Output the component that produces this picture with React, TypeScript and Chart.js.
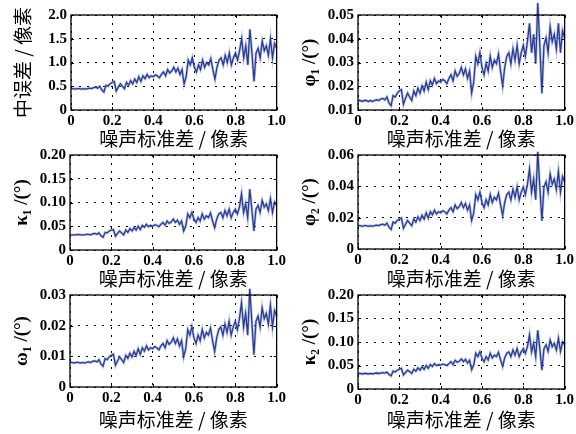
import React, { useEffect, useRef } from 'react';
import { Chart, registerables } from 'chart.js';

Chart.register(...registerables);

// ---------- data ----------
const noiseStd = [
  0, 0.01, 0.02, 0.03, 0.04, 0.05, 0.06, 0.07, 0.08, 0.09,
  0.1, 0.11, 0.12, 0.13, 0.14, 0.15, 0.16, 0.17, 0.18, 0.19,
  0.2, 0.21, 0.22, 0.23, 0.24, 0.25, 0.26, 0.27, 0.28, 0.29,
  0.3, 0.31, 0.32, 0.33, 0.34, 0.35, 0.36, 0.37, 0.38, 0.39,
  0.4, 0.41, 0.42, 0.43, 0.44, 0.45, 0.46, 0.47, 0.48, 0.49,
  0.5, 0.51, 0.52, 0.53, 0.54, 0.55, 0.56, 0.57, 0.58, 0.59,
  0.6, 0.61, 0.62, 0.63, 0.64, 0.65, 0.66, 0.67, 0.68, 0.69,
  0.7, 0.71, 0.72, 0.73, 0.74, 0.75, 0.76, 0.77, 0.78, 0.79,
  0.8, 0.81, 0.82, 0.83, 0.84, 0.85, 0.86, 0.87, 0.88, 0.89,
  0.9, 0.91, 0.92, 0.93, 0.94, 0.95, 0.96, 0.97, 0.98, 0.99,
  1.0,
];

const meanError = [
  0.45, 0.45, 0.44, 0.45, 0.45, 0.44, 0.45, 0.44, 0.45, 0.46,
  0.45, 0.47, 0.48, 0.46, 0.50, 0.42, 0.38, 0.52, 0.50, 0.55,
  0.58, 0.60, 0.40, 0.48, 0.55, 0.50, 0.45, 0.58, 0.52, 0.62,
  0.55, 0.65, 0.58, 0.70, 0.60, 0.72, 0.66, 0.75, 0.68, 0.72,
  0.70, 0.74, 0.72, 0.68, 0.75, 0.80, 0.72, 0.85, 0.78, 0.82,
  0.90, 0.80, 0.88, 0.75, 0.85, 0.55, 0.70, 1.05, 0.95, 1.10,
  0.90, 0.80, 0.95, 0.85, 1.05, 0.90, 1.00, 0.95, 1.08, 0.85,
  0.65, 0.90, 1.05, 1.10, 0.95, 1.15, 1.00, 1.20, 0.95, 1.10,
  1.20, 1.05, 1.25, 1.50, 1.10, 1.35, 0.95, 1.70, 1.20, 0.60,
  1.20, 1.30, 1.10, 1.45, 1.25, 1.35, 1.15, 1.50, 1.10, 1.40,
  1.30,
];

const phi1 = [
  0.0140, 0.0140, 0.0136, 0.0140, 0.0140, 0.0136, 0.0140, 0.0136, 0.0140, 0.0143,
  0.0140, 0.0146, 0.0149, 0.0143, 0.0155, 0.0130, 0.0118, 0.0161, 0.0155, 0.0171,
  0.0180, 0.0186, 0.0124, 0.0149, 0.0171, 0.0155, 0.0140, 0.0180, 0.0161, 0.0192,
  0.0171, 0.0202, 0.0180, 0.0217, 0.0186, 0.0223, 0.0205, 0.0233, 0.0211, 0.0223,
  0.0217, 0.0229, 0.0223, 0.0211, 0.0233, 0.0248, 0.0223, 0.0264, 0.0242, 0.0254,
  0.0279, 0.0248, 0.0273, 0.0233, 0.0264, 0.0171, 0.0217, 0.0326, 0.0295, 0.0341,
  0.0279, 0.0248, 0.0295, 0.0264, 0.0326, 0.0279, 0.0310, 0.0295, 0.0335, 0.0264,
  0.0202, 0.0279, 0.0326, 0.0341, 0.0295, 0.0357, 0.0310, 0.0372, 0.0295, 0.0341,
  0.0372, 0.0326, 0.0388, 0.0465, 0.0341, 0.0419, 0.0295, 0.0550, 0.0372, 0.0170,
  0.0372, 0.0403, 0.0341, 0.0450, 0.0388, 0.0419, 0.0357, 0.0465, 0.0341, 0.0434,
  0.0403,
];

const kappa1 = [
  0.032, 0.032, 0.032, 0.032, 0.033, 0.032, 0.032, 0.032, 0.033, 0.033,
  0.032, 0.034, 0.035, 0.033, 0.036, 0.030, 0.027, 0.037, 0.036, 0.040,
  0.042, 0.043, 0.029, 0.035, 0.040, 0.036, 0.032, 0.042, 0.037, 0.045,
  0.040, 0.047, 0.042, 0.050, 0.043, 0.052, 0.048, 0.054, 0.049, 0.052,
  0.050, 0.053, 0.052, 0.049, 0.054, 0.058, 0.052, 0.061, 0.056, 0.059,
  0.065, 0.058, 0.063, 0.054, 0.061, 0.040, 0.050, 0.076, 0.068, 0.079,
  0.065, 0.058, 0.068, 0.061, 0.076, 0.065, 0.072, 0.068, 0.078, 0.061,
  0.047, 0.065, 0.076, 0.079, 0.068, 0.083, 0.072, 0.086, 0.068, 0.079,
  0.086, 0.076, 0.090, 0.118, 0.079, 0.097, 0.068, 0.128, 0.086, 0.040,
  0.086, 0.094, 0.079, 0.104, 0.090, 0.097, 0.083, 0.108, 0.079, 0.101,
  0.094,
];

const phi2 = [
  0.0149, 0.0149, 0.0145, 0.0149, 0.0149, 0.0145, 0.0149, 0.0145, 0.0149, 0.0152,
  0.0149, 0.0155, 0.0158, 0.0152, 0.0165, 0.0139, 0.0125, 0.0172, 0.0165, 0.0182,
  0.0191, 0.0198, 0.0132, 0.0158, 0.0182, 0.0165, 0.0149, 0.0191, 0.0172, 0.0205,
  0.0182, 0.0215, 0.0191, 0.0231, 0.0198, 0.0238, 0.0218, 0.0248, 0.0224, 0.0238,
  0.0231, 0.0244, 0.0238, 0.0224, 0.0248, 0.0264, 0.0238, 0.0281, 0.0257, 0.0271,
  0.0297, 0.0264, 0.0290, 0.0248, 0.0281, 0.0182, 0.0231, 0.0347, 0.0314, 0.0363,
  0.0297, 0.0264, 0.0314, 0.0281, 0.0347, 0.0297, 0.0330, 0.0314, 0.0356, 0.0281,
  0.0215, 0.0297, 0.0347, 0.0363, 0.0314, 0.0380, 0.0330, 0.0396, 0.0314, 0.0363,
  0.0396, 0.0347, 0.0413, 0.0510, 0.0363, 0.0446, 0.0314, 0.0620, 0.0396, 0.0180,
  0.0396, 0.0429, 0.0363, 0.0479, 0.0413, 0.0446, 0.0380, 0.0495, 0.0363, 0.0462,
  0.0429,
];

const omega1 = [
  0.0080, 0.0080, 0.0078, 0.0080, 0.0080, 0.0078, 0.0080, 0.0078, 0.0080, 0.0082,
  0.0080, 0.0084, 0.0085, 0.0082, 0.0089, 0.0075, 0.0068, 0.0093, 0.0089, 0.0098,
  0.0103, 0.0107, 0.0071, 0.0085, 0.0098, 0.0089, 0.0080, 0.0103, 0.0093, 0.0110,
  0.0098, 0.0116, 0.0103, 0.0125, 0.0107, 0.0128, 0.0117, 0.0134, 0.0121, 0.0128,
  0.0125, 0.0132, 0.0128, 0.0121, 0.0134, 0.0142, 0.0128, 0.0151, 0.0139, 0.0146,
  0.0160, 0.0142, 0.0157, 0.0134, 0.0151, 0.0098, 0.0125, 0.0187, 0.0169, 0.0196,
  0.0160, 0.0142, 0.0169, 0.0151, 0.0187, 0.0160, 0.0178, 0.0169, 0.0192, 0.0151,
  0.0116, 0.0160, 0.0187, 0.0196, 0.0169, 0.0205, 0.0178, 0.0214, 0.0169, 0.0196,
  0.0214, 0.0187, 0.0223, 0.0275, 0.0196, 0.0240, 0.0169, 0.0320, 0.0214, 0.0105,
  0.0214, 0.0231, 0.0196, 0.0258, 0.0223, 0.0240, 0.0205, 0.0267, 0.0196, 0.0249,
  0.0231,
];

const kappa2 = [
  0.033, 0.033, 0.032, 0.033, 0.033, 0.032, 0.033, 0.032, 0.033, 0.034,
  0.033, 0.034, 0.035, 0.034, 0.036, 0.031, 0.028, 0.038, 0.036, 0.040,
  0.042, 0.044, 0.030, 0.035, 0.040, 0.037, 0.033, 0.042, 0.038, 0.045,
  0.040, 0.047, 0.042, 0.050, 0.044, 0.052, 0.048, 0.054, 0.050, 0.052,
  0.051, 0.053, 0.052, 0.050, 0.054, 0.058, 0.052, 0.061, 0.057, 0.059,
  0.064, 0.058, 0.063, 0.055, 0.061, 0.041, 0.051, 0.076, 0.069, 0.079,
  0.066, 0.058, 0.069, 0.062, 0.076, 0.066, 0.072, 0.069, 0.078, 0.062,
  0.048, 0.066, 0.076, 0.079, 0.069, 0.083, 0.072, 0.086, 0.069, 0.079,
  0.086, 0.076, 0.090, 0.115, 0.079, 0.097, 0.069, 0.125, 0.086, 0.040,
  0.086, 0.094, 0.080, 0.104, 0.090, 0.097, 0.083, 0.108, 0.080, 0.100,
  0.094,
];

const xTitle = '噪声标准差 / 像素';
const xTicks = [0, 0.2, 0.4, 0.6, 0.8, 1.0];

// ---------- layout / styles ----------
type Rect = { x: number; y: number; w: number; h: number };
type Area = { l: number; t: number; r: number; b: number };

interface PanelCfg {
  values: number[];
  yMin: number;
  yMax: number;
  yStep: number;
  yDigits: number;
  yTitle: string;
  cjkTitle: boolean;
  canvas: Rect;
  area: Area;
}

const LINE_COLOR = '#2a3c90';
const HALO_COLOR = 'rgba(110, 130, 200, 0.45)';
const TICK_FONT = { family: "'Liberation Serif', 'Times New Roman', serif", size: 15, weight: 'bold' as const };
const CJK_FONT = { family: "'Noto Sans CJK SC', sans-serif", size: 19, weight: 'normal' as const };
const GREEK_FONT = { family: "'Liberation Serif', 'DejaVu Serif', serif", size: 19, weight: 'bold' as const };
const GRID_DASH = [2, 6];

const panels: PanelCfg[] = [
  { values: meanError, yMin: 0, yMax: 2, yStep: 0.5, yDigits: 1, yTitle: '中误差 / 像素', cjkTitle: true,
    canvas: { x: 0, y: 0, w: 288, h: 150 }, area: { l: 71, t: 15, r: 278, b: 110 } },
  { values: phi1, yMin: 0.01, yMax: 0.05, yStep: 0.01, yDigits: 2, yTitle: 'φ₁ /(°)', cjkTitle: false,
    canvas: { x: 288, y: 0, w: 288, h: 150 }, area: { l: 358, t: 15, r: 567, b: 110 } },
  { values: kappa1, yMin: 0, yMax: 0.2, yStep: 0.05, yDigits: 2, yTitle: 'κ₁ /(°)', cjkTitle: false,
    canvas: { x: 0, y: 140, w: 288, h: 150 }, area: { l: 70, t: 155, r: 278, b: 250 } },
  { values: phi2, yMin: 0, yMax: 0.06, yStep: 0.02, yDigits: 2, yTitle: 'φ₂ /(°)', cjkTitle: false,
    canvas: { x: 288, y: 140, w: 288, h: 150 }, area: { l: 358, t: 155, r: 567, b: 249 } },
  { values: omega1, yMin: 0, yMax: 0.03, yStep: 0.01, yDigits: 2, yTitle: 'ω₁ /(°)', cjkTitle: false,
    canvas: { x: 0, y: 280, w: 288, h: 151 }, area: { l: 70, t: 295, r: 278, b: 387 } },
  { values: kappa2, yMin: 0, yMax: 0.2, yStep: 0.05, yDigits: 2, yTitle: 'κ₂ /(°)', cjkTitle: false,
    canvas: { x: 288, y: 280, w: 288, h: 151 }, area: { l: 358, t: 295, r: 567, b: 389 } },
];

const boxPlugin = {
  id: 'matlabBox',
  afterDraw(chart: any) {
    const { ctx, chartArea } = chart;
    const { left, top, right, bottom } = chartArea;
    ctx.save();
    ctx.strokeStyle = '#000';
    ctx.lineWidth = 1.3;
    ctx.setLineDash([]);
    ctx.strokeRect(left, top, right - left, bottom - top);
    const len = 3;
    ctx.lineWidth = 1;
    ctx.beginPath();
    const xs = chart.scales.x;
    xs.ticks.forEach((t: any) => {
      const px = Math.round(xs.getPixelForValue(t.value)) + 0.5;
      ctx.moveTo(px, bottom);
      ctx.lineTo(px, bottom - len);
      ctx.moveTo(px, top);
      ctx.lineTo(px, top + len);
    });
    const ys = chart.scales.y;
    ys.ticks.forEach((t: any) => {
      const py = Math.round(ys.getPixelForValue(t.value)) + 0.5;
      ctx.moveTo(left, py);
      ctx.lineTo(left + len, py);
      ctx.moveTo(right, py);
      ctx.lineTo(right - len, py);
    });
    ctx.stroke();
    ctx.restore();
  },
};

function Panel({ cfg }: { cfg: PanelCfg }) {
  const ref = useRef<HTMLCanvasElement | null>(null);
  useEffect(() => {
    const canvas = ref.current;
    if (!canvas) return;
    const { canvas: c, area } = cfg;
    const yAxisWidth = area.l - c.x;
    const xAxisHeight = c.y + c.h - area.b;
    const points = noiseStd.map((x, i) => ({ x, y: cfg.values[i] }));
    const chart = new Chart(canvas, {
      type: 'line',
      data: {
        datasets: [
          {
            data: points,
            borderColor: LINE_COLOR,
            borderWidth: 1.3,
            pointRadius: 0,
            tension: 0,
            fill: false,
            clip: false as any,
          },
          {
            data: points,
            borderColor: HALO_COLOR,
            borderWidth: 2.8,
            pointRadius: 0,
            tension: 0,
            fill: false,
            clip: false as any,
          },
        ],
      },
      options: {
        animation: false,
        responsive: false,
        maintainAspectRatio: false,
        events: [],
        layout: {
          padding: { left: 0, top: area.t - c.y, right: c.x + c.w - area.r, bottom: 0 },
        },
        plugins: { legend: { display: false }, tooltip: { enabled: false }, title: { display: false } },
        scales: {
          x: {
            type: 'linear',
            min: 0,
            max: 1,
            afterBuildTicks: (scale: any) => {
              scale.ticks = xTicks.map((v) => ({ value: v }));
            },
            afterFit: (scale: any) => {
              scale.height = xAxisHeight;
            },
            ticks: {
              autoSkip: false,
              maxRotation: 0,
              padding: 2,
              color: '#000',
              font: TICK_FONT,
              callback: (v: any) => (Number(v) === 0 ? '0' : Number(v).toFixed(1)),
            },
            grid: { color: '#000', lineWidth: 1, drawTicks: false },
            border: { display: false, dash: GRID_DASH },
            title: {
              display: true,
              text: xTitle,
              color: '#000',
              font: CJK_FONT,
              padding: { top: 0, bottom: 0 },
            },
          },
          y: {
            type: 'linear',
            min: cfg.yMin,
            max: cfg.yMax,
            afterBuildTicks: (scale: any) => {
              const arr: { value: number }[] = [];
              const n = Math.round((cfg.yMax - cfg.yMin) / cfg.yStep);
              for (let i = 0; i <= n; i++) arr.push({ value: cfg.yMin + i * cfg.yStep });
              scale.ticks = arr;
            },
            afterFit: (scale: any) => {
              scale.width = yAxisWidth;
            },
            ticks: {
              autoSkip: false,
              padding: 4,
              color: '#000',
              font: TICK_FONT,
              callback: (v: any) => (Math.abs(Number(v)) < 1e-9 ? '0' : Number(v).toFixed(cfg.yDigits)),
            },
            grid: { color: '#000', lineWidth: 1, drawTicks: false },
            border: { display: false, dash: GRID_DASH },
            title: {
              display: true,
              text: cfg.yTitle,
              color: '#000',
              font: cfg.cjkTitle ? CJK_FONT : GREEK_FONT,
              padding: { top: 11, bottom: 0 },
            },
          },
        },
      } as any,
      plugins: [boxPlugin],
    });
    return () => chart.destroy();
  }, [cfg]);

  return (
    <canvas
      ref={ref}
      width={cfg.canvas.w}
      height={cfg.canvas.h}
      style={{
        position: 'absolute',
        left: cfg.canvas.x,
        top: cfg.canvas.y,
        width: cfg.canvas.w,
        height: cfg.canvas.h,
      }}
    />
  );
}

export default function App() {
  return (
    <div
      style={{
        position: 'absolute',
        left: 0,
        top: 0,
        width: 576,
        height: 434,
        overflow: 'hidden',
        background: '#fff',
      }}
    >
      {panels.map((p, i) => (
        <Panel key={i} cfg={p} />
      ))}
    </div>
  );
}
